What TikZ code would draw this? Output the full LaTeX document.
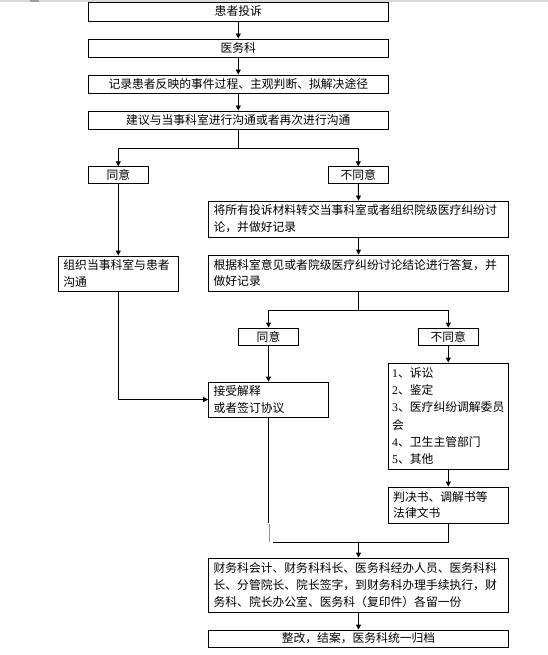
\documentclass[tikz,border=0pt]{standalone}
\usepackage{fontspec}
\setmainfont{Noto Sans CJK SC}
\newfontfamily\numfont{Liberation Serif}
\usetikzlibrary{arrows.meta}
\definecolor{seg}{RGB}{120,150,180}
\tikzset{
  box/.style={draw=black, line width=0.9pt, inner ysep=0pt, inner xsep=5pt,
    font=\fontsize{11.8}{16.8}\selectfont},
  ctr/.style={box, align=center},
  lft/.style={box, align=left},
  arr/.style={line width=0.9pt, -{Triangle[length=5pt,width=5pt]}},
  ln/.style={draw=black, line width=0.9pt},
}
\begin{document}
\begin{tikzpicture}[x=1pt,y=-1pt]
\useasboundingbox (0,0) rectangle (548,655);
\fill[gray!30] (0,0) rectangle (548,1.6);
\fill[gray!75] (30,0) rectangle (39,1.6);

\node[ctr, text width=290pt, minimum height=19pt] (b1) at (238.3,11.5) {患者投诉};
\node[ctr, text width=290pt, minimum height=18pt] (b2) at (238.3,48) {医务科};
\node[ctr, text width=290pt, minimum height=18pt] (b3) at (238.3,84) {记录患者反映的事件过程、主观判断、拟解决途径};
\node[ctr, text width=290pt, minimum height=18pt] (b4) at (238.3,120) {建议与当事科室进行沟通或者再次进行沟通};

\node[ctr, text width=49.7pt, minimum height=16.5pt] (yes1) at (118.3,175) {同意};
\node[ctr, text width=49.8pt, minimum height=16.5pt] (no1) at (358.3,175) {不同意};

\node[lft, text width=289.8pt, minimum height=36pt] (b5) at (358.5,219)
  {将所有投诉材料转交当事科室或者组织院级医疗纠纷讨\\论，并做好记录};
\node[lft, text width=109.8pt, minimum height=35pt] (zuzhi) at (118.3,273.5)
  {组织当事科室与患者\\沟通};
\node[lft, text width=289.8pt, minimum height=36pt] (b6) at (358.5,273)
  {根据科室意见或者院级医疗纠纷讨论结论进行答复，并\\做好记录};

\node[ctr, text width=50.4pt, minimum height=17pt] (yes2) at (268.5,336.5) {同意};
\node[ctr, text width=50pt, minimum height=17pt] (no2) at (448.3,336.5) {不同意};

\node[lft, text width=109.8pt, minimum height=35pt] (accept) at (268.5,399.5)
  {接受解释\\或者签订协议};
\node[lft, inner xsep=4pt, text width=112.2pt, minimum height=106pt,
  font=\fontsize{11.8}{17.3}\selectfont] (list) at (448.3,416)
  {{\numfont 1}、诉讼\\{\numfont 2}、鉴定\\{\numfont 3}、医疗纠纷调解委员\\会\\{\numfont 4}、卫生主管部门\\{\numfont 5}、其他};
\node[lft, text width=110.2pt, minimum height=36pt] (judge) at (448.3,505)
  {判决书、调解书等\\法律文书};

\node[lft, text width=289.8pt, minimum height=54pt] (fin) at (358.5,585)
  {财务科会计、财务科科长、医务科经办人员、医务科科\\长、分管院长、院长签字，到财务科办理手续执行，财\\务科、院长办公室、医务科（复印件）各留一份};
\node[ctr, text width=289.8pt, minimum height=17pt] (final) at (358.5,638.5)
  {整改，结案，医务科统一归档};

% connectors
\draw[arr] (b1.south) -- (b2.north);
\draw[arr] (b2.south) -- (b3.north);
\draw[arr] (b3.south) -- (b4.north);
\path (b4.south) ++(0,19) coordinate (j1);
\draw[ln] (b4.south) -- (j1);
\draw[arr] (j1) -| (yes1.north);
\draw[arr] (j1) -| (no1.north);
\draw[arr] (no1.south) -- (b5.north);
\draw[arr] (b5.south) -- (b6.north);
\draw[arr] (yes1.south) -- (zuzhi.north);
\path (b6.south) ++(0,19) coordinate (j2);
\draw[ln] (b6.south) -- (j2);
\draw[arr] (j2) -| (yes2.north);
\draw[arr] (j2) -| (no2.north);
\draw[arr] (yes2.south) -- (accept.north);
\draw[arr] (no2.south) -- (list.north);
\draw[arr] (list.south) -- (judge.north);
\draw[arr] (zuzhi.south) |- (accept.west);

\path (accept.south) ++(0,106) coordinate (m1);
\path (m1) ++(1,1) coordinate (m2);
\path (m1) ++(1,19) coordinate (m3);
\path (m1) ++(4.5,19) coordinate (m4);
\path (judge.south) ++(0,19) coordinate (m5);
\draw[ln] (accept.south) -- (m1);
\draw[line width=0.9pt, seg] (m2) -- (m3);
\draw[ln] (judge.south) -- (m5) -- (m4);
\draw[arr] (fin.north |- m5) -- (fin.north);
\draw[arr] (fin.south) -- (final.north);
\end{tikzpicture}
\end{document}
